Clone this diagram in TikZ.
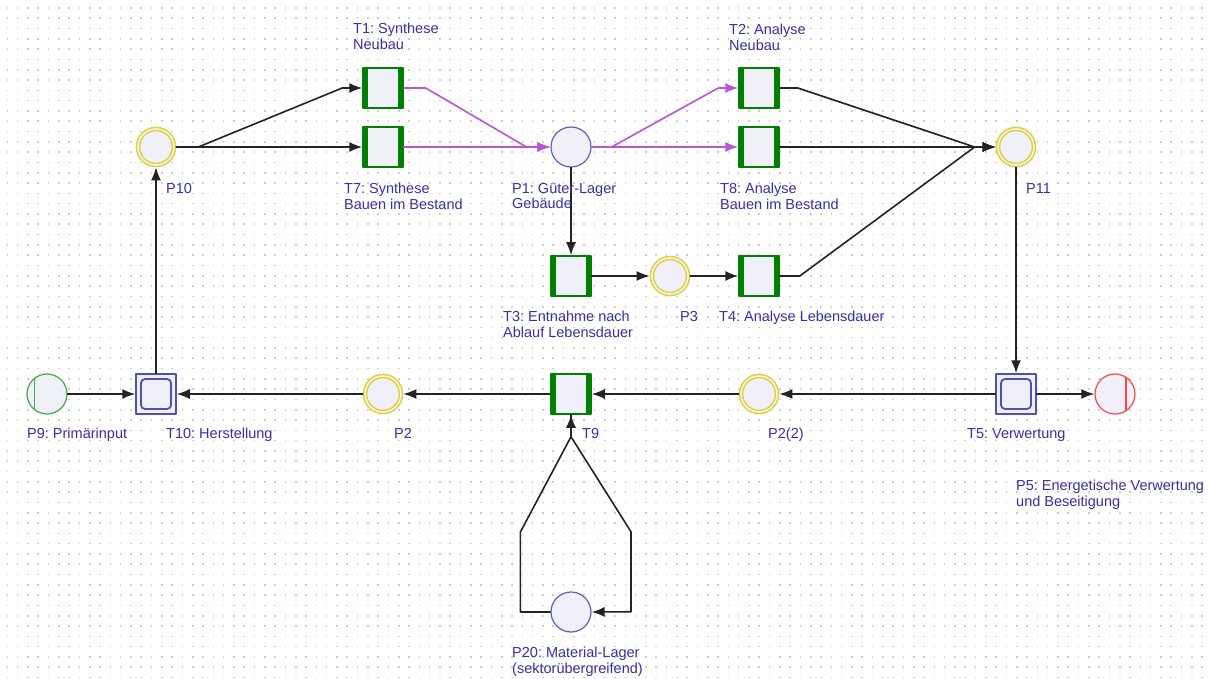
\documentclass[tikz,border=0pt]{standalone}
\usepackage{fontspec}
\setmainfont{Liberation Sans}
\usetikzlibrary{arrows.meta}
\frenchspacing

\definecolor{tgreen}{RGB}{0,128,0}
\definecolor{tfill}{RGB}{240,240,248}
\definecolor{pyellow}{RGB}{222,205,70}
\definecolor{pblue}{RGB}{95,95,190}
\definecolor{bblue}{RGB}{80,80,180}
\definecolor{pgreen}{RGB}{70,170,70}
\definecolor{pred}{RGB}{255,70,70}
\definecolor{arcgray}{RGB}{35,35,35}
\definecolor{arcpurple}{RGB}{185,85,215}
\definecolor{lblue}{RGB}{50,50,170}
\definecolor{dotgray}{RGB}{205,205,205}

\tikzset{
  trans/.style={draw=tgreen, line width=1.5pt, fill=tfill, minimum size=40pt, inner sep=0pt,
    path picture={
      \fill[tgreen] (path picture bounding box.north west) rectangle ([xshift=5pt]path picture bounding box.south west);
      \fill[tgreen] (path picture bounding box.north east) rectangle ([xshift=-5pt]path picture bounding box.south east);}},
  btrans/.style={draw=bblue, line width=1.5pt, fill=tfill, minimum size=40pt, inner sep=0pt,
    path picture={
      \draw[bblue, line width=1.8pt, rounded corners=4pt]
        ([shift={(5pt,-5pt)}]path picture bounding box.north west) rectangle
        ([shift={(-5pt,5pt)}]path picture bounding box.south east);}},
  yplace/.style={circle, draw=pyellow, line width=1.5pt, double=pyellow!22, double distance=1.6pt,
    fill=tfill, minimum size=36pt, inner sep=0pt, outer sep=2.3pt},
  bplace/.style={circle, draw=pblue, line width=1.2pt, fill=tfill, minimum size=40pt, inner sep=0pt},
  gplace/.style={bplace, draw=pgreen,
    path picture={\draw[pgreen, line width=1.2pt] ([xshift=7.5pt]path picture bounding box.north west) -- ([xshift=7.5pt]path picture bounding box.south west);}},
  rplace/.style={bplace, draw=pred,
    path picture={\draw[pred, line width=1.2pt] ([xshift=-9pt]path picture bounding box.north east) -- ([xshift=-9pt]path picture bounding box.south east);}},
  arc/.style={draw=arcgray, line width=1.6pt, -{Latex[length=13pt,width=10pt]}},
  parc/.style={arc, draw=arcpurple},
  lbl/.style={text=lblue, font=\fontsize{14.5}{15.3}\selectfont, align=left, anchor=north west, inner sep=0pt},
  dotgrid/.style={draw=dotgray, line width=1.6pt, line cap=butt, dash pattern=on 1.6pt off 8.7pt}
}

\begin{document}
\begin{tikzpicture}[x=1pt, y=-1pt, line cap=round, line join=round]
  \useasboundingbox[fill=white] (0,0) rectangle (1208,679);
  % dotted grid
  \foreach \r in {0,...,65}
    \draw[dotgrid] (6.5,{8+\r*10.3}) -- (1208,{8+\r*10.3});

  % transitions and places
  \node[yplace] (p10) at (156,147) {};
  \node[trans] (t1) at (383,88) {};
  \node[trans] (t7) at (383,147) {};
  \node[bplace] (p1) at (571,147) {};
  \node[trans] (t2) at (759,88) {};
  \node[trans] (t8) at (759,147) {};
  \node[yplace] (p11) at (1016,147) {};
  \node[trans] (t3) at (571,276) {};
  \node[yplace] (p3) at (670,276) {};
  \node[trans] (t4) at (759,276) {};
  \node[gplace] (p9) at (47,394) {};
  \node[btrans] (t10) at (156,394) {};
  \node[yplace] (p2) at (383,394) {};
  \node[trans] (t9) at (571,394) {};
  \node[yplace] (p22) at (759,394) {};
  \node[btrans] (t5) at (1016,394) {};
  \node[rplace] (p5) at (1115,394) {};
  \node[bplace] (p20) at (571,612) {};

  % arcs
  \draw[arc] (p10.east) -- ++(22,0) -- ([xshift=-20pt]t1.west) -- (t1.west);
  \draw[arc] (p10) -- (t7);
  \draw[parc] (t1.east) -- ++(22,0) -- ([xshift=-24pt]p1.west) -- (p1.west);
  \draw[parc] (t7) -- (p1);
  \draw[parc] (p1.east) -- ++(20,0) -- ([xshift=-20pt]t2.west) -- (t2.west);
  \draw[parc] (p1) -- (t8);
  \draw[arc] (t2.east) -- ++(18,0) -- ([xshift=-21pt]p11.west) -- (p11.west);
  \draw[arc] (t8) -- (p11);
  \draw[arc] (t4.east) -- ++(20,0) -- ([xshift=-21pt]p11.west) -- (p11.west);
  \draw[arc] (p1) -- (t3);
  \draw[arc] (t3) -- (p3);
  \draw[arc] (p3) -- (t4);
  \draw[arc] (p11) -- (t5);
  \draw[arc] (t5) -- (p5);
  \draw[arc] (t5) -- (p22);
  \draw[arc] (p22) -- (t9);
  \draw[arc] (t9) -- (p2);
  \draw[arc] (p2) -- (t10);
  \draw[arc] (p9) -- (t10);
  \draw[arc] (t10) -- (p10);
  \draw[arc] (p20.west) -- ++(-30,0) -- ++(0,-80) -- ([yshift=-22pt]t9.south) -- (t9.south);
  \draw[arc] (t9.south) -- ++(0,22) -- ++(60,95) -- ++(0,80) -- (p20.east);

  % labels
  \node[lbl] (t1lab) at (353,23) {T1: Synthese\\Neubau};
  \node[lbl] (t7lab) at (344,183) {T7: Synthese\\Bauen im Bestand};
  \node[lbl] (p10lab) at (166,183) {P10};
  \node[lbl] (p1lab) at (512,183) {P1: Güter-Lager\\Gebäude};
  \node[lbl] (t2lab) at (729,24) {T2: Analyse\\Neubau};
  \node[lbl] (t8lab) at (720,183) {T8: Analyse\\Bauen im Bestand};
  \node[lbl] (p11lab) at (1026,183) {P11};
  \node[lbl] (t3lab) at (503,311) {T3: Entnahme nach\\Ablauf Lebensdauer};
  \node[lbl] (p3lab) at (680,311) {P3};
  \node[lbl] (t4lab) at (719,311) {T4: Analyse Lebensdauer};
  \node[lbl] (p9lab) at (27,428) {P9: Primärinput};
  \node[lbl] (t10lab) at (166,428) {T10: Herstellung};
  \node[lbl] (p2lab) at (394,428) {P2};
  \node[lbl] (t9lab) at (582,428) {T9};
  \node[lbl] (p22lab) at (768,428) {P2(2)};
  \node[lbl] (t5lab) at (967,428) {T5: Verwertung};
  \node[lbl] (p5lab) at (1016,480) {P5: Energetische Verwertung\\und Beseitigung};
  \node[lbl] (p20lab) at (512,647) {P20: Material-Lager\\(sektorübergreifend)};
\end{tikzpicture}
\end{document}
